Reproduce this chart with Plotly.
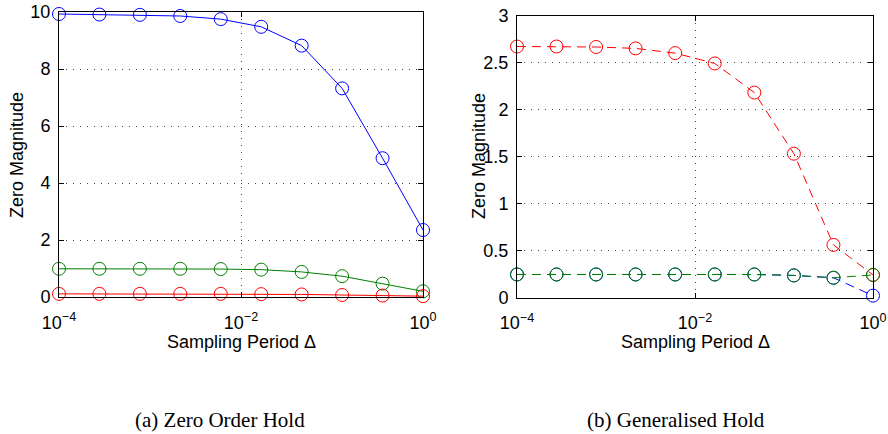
import numpy as np
import plotly.graph_objects as go

# ---- data ----
delta = [1e-4, 2.78e-4, 7.74e-4, 2.15e-3, 5.99e-3, 1.668e-2, 4.64e-2, 0.1292, 0.3594, 1.0]

zoh_blue = [9.93, 9.91, 9.90, 9.86, 9.75, 9.48, 8.82, 7.32, 4.87, 2.35]
zoh_green = [0.99, 0.99, 0.99, 0.99, 0.98, 0.96, 0.88, 0.73, 0.47, 0.20]
zoh_red = [0.11, 0.11, 0.11, 0.11, 0.11, 0.10, 0.09, 0.07, 0.05, 0.03]

gh_red = [2.67, 2.67, 2.665, 2.65, 2.60, 2.49, 2.18, 1.53, 0.56, 0.24]
gh_blue = [0.245, 0.245, 0.245, 0.245, 0.245, 0.245, 0.245, 0.235, 0.21, 0.02]
gh_green = [0.245, 0.245, 0.245, 0.245, 0.245, 0.245, 0.245, 0.235, 0.21, 0.24]

xtick_vals = [1e-4, 1e-2, 1]
xtick_text = ["10<sup>−4</sup>", "10<sup>−2</sup>", "10<sup>0</sup>"]
left_yticks = [0, 2, 4, 6, 8, 10]
right_yticks = [0, 0.5, 1, 1.5, 2, 2.5, 3]
right_ytext = ["0", "0.5", "1", "1.5", "2", "2.5", "3"]

BLUE = "rgb(0,0,255)"
GREEN = "rgb(0,128,0)"
RED = "rgb(255,0,0)"

fig = go.Figure()

def add(x, y, color, xa, ya, dash):
    fig.add_trace(go.Scatter(
        x=x, y=y, mode="lines+markers", xaxis=xa, yaxis=ya,
        line=dict(color=color, width=1, dash=dash),
        marker=dict(symbol="circle-open", size=13, color=color, line=dict(width=1, color=color)),
        showlegend=False, cliponaxis=False))

add(delta, zoh_blue, BLUE, "x", "y", "solid")
add(delta, zoh_green, GREEN, "x", "y", "solid")
add(delta, zoh_red, RED, "x", "y", "solid")

add(delta, gh_red, RED, "x2", "y2", "9px,6px")
add(delta, gh_blue, BLUE, "x2", "y2", "9px,6px")
add(delta, gh_green, GREEN, "x2", "y2", "9px,6px")

W, H = 888, 434
tickfont = dict(family="Liberation Sans, Arial, sans-serif", size=18, color="black")
GRID = "rgb(70,70,70)"

common_x = dict(type="log", tickvals=xtick_vals, ticktext=xtick_text, range=[-4, 0],
                showline=True, linecolor="black", linewidth=1, mirror="ticks",
                ticks="inside", ticklen=5, tickcolor="black",
                showgrid=True, gridcolor=GRID, griddash="1px,6px", gridwidth=1,
                zeroline=False, tickfont=tickfont, ticklabelstandoff=9, automargin=False)
common_y = dict(showline=True, linecolor="black", linewidth=1, mirror="ticks",
                ticks="inside", ticklen=5, tickcolor="black",
                showgrid=True, gridcolor=GRID, griddash="1px,6px", gridwidth=1,
                zeroline=False, tickfont=tickfont, ticklabelstandoff=4, automargin=False)

fig.update_layout(
    width=W, height=H,
    margin=dict(l=0, r=0, t=0, b=0),
    paper_bgcolor="white", plot_bgcolor="white",
    xaxis=dict(domain=[59 / W, 423 / W], anchor="y", **common_x),
    yaxis=dict(domain=[1 - 297 / H, 1 - 12 / H], anchor="x", range=[0, 10],
               tickvals=left_yticks, **common_y),
    xaxis2=dict(domain=[517 / W, 873 / W], anchor="y2", **common_x),
    yaxis2=dict(domain=[1 - 297.5 / H, 1 - 15.5 / H], anchor="x2", range=[0, 3],
                tickvals=right_yticks, ticktext=right_ytext, **common_y),
)

afont = dict(family="Liberation Sans, Arial, sans-serif", size=18, color="black")
cfont = dict(family="Liberation Serif, Times New Roman, serif", size=21, color="black")
ann = [
    dict(text="Zero Magnitude", x=17 / W, y=1 - 155 / H, textangle=-90, font=afont),
    dict(text="Zero Magnitude", x=479 / W, y=1 - 156 / H, textangle=-90, font=afont),
    dict(text="Sampling Period Δ", x=241 / W, y=1 - 342 / H, font=afont),
    dict(text="Sampling Period Δ", x=695 / W, y=1 - 342 / H, font=afont),
    dict(text="(a) Zero Order Hold", x=220 / W, y=1 - 420 / H, font=cfont),
    dict(text="(b) Generalised Hold", x=676 / W, y=1 - 420 / H, font=cfont),
]
for a in ann:
    fig.add_annotation(xref="paper", yref="paper", showarrow=False,
                       xanchor="center", yanchor="middle", **a)

fig.write_html(
    "out.html",
    config={"displayModeBar": False},
    post_script="document.body.style.margin='0';document.body.style.overflow='hidden';",
)
